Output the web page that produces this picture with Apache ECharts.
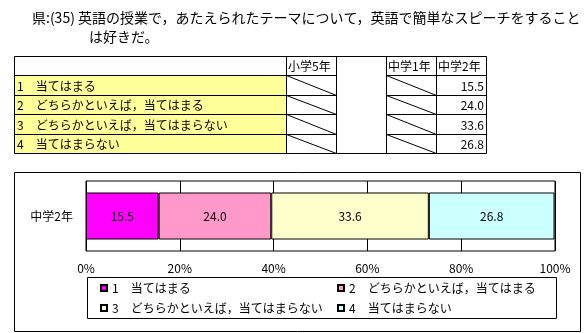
<!DOCTYPE html>
<html>
<head>
<meta charset="utf-8">
<script src="https://cdn.jsdelivr.net/npm/echarts@6/dist/echarts.min.js"></script>
<style>
html,body{margin:0;padding:0;background:#fff;}
#c{width:587px;height:333px;}
</style>
</head>
<body>
<div id="c"></div>
<script>
const titleLines = ['県:(35) 英語の授業で，あたえられたテーマについて，英語で簡単なスピーチをすること', 'は好きだ。'];
const categories = ['1　当てはまる', '2　どちらかといえば，当てはまる', '3　どちらかといえば，当てはまらない', '4　当てはまらない'];
const tableHeaders = ['小学5年', '中学1年', '中学2年'];
const gradeLabel = '中学2年';
const values = [15.5, 24.0, 33.6, 26.8];
const xTicks = [0, 20, 40, 60, 80, 100];
const colors = ['#FF00FF', '#FF99CC', '#FFFFCC', '#CCFFFF'];

const FONT = '"Noto Sans CJK JP", sans-serif';
const chart = echarts.init(document.getElementById('c'), null, {renderer: 'canvas'});

// table layout
const cx = [14, 286, 336, 386, 436, 486];
const ry = [56, 75, 95, 114, 134, 153];
const px = v => Math.round(v) + 0.5;
const g = [];
const line = (x1, y1, x2, y2) => g.push({type: 'line', shape: {x1: px(x1), y1: px(y1), x2: px(x2), y2: px(y2)}, style: {stroke: '#000', lineWidth: 1}, silent: true});
const text = (x, y, t, align, size) => g.push({type: 'text', x: x, y: y, style: {text: t, fill: '#000', font: (size || 12) + 'px ' + FONT, textAlign: align || 'left', textVerticalAlign: 'middle'}, silent: true});

// title
text(32, 18, titleLines[0], 'left', 14);
text(89, 37, titleLines[1], 'left', 14);

// yellow fill
g.push({type: 'rect', shape: {x: cx[0], y: ry[1], width: cx[1] - cx[0], height: ry[5] - ry[1]}, style: {fill: '#FFFF99'}, silent: true});
// horizontal lines
line(cx[0], ry[0], cx[5], ry[0]);
line(cx[0], ry[5], cx[5], ry[5]);
for (let i = 1; i < 5; i++) { line(cx[0], ry[i], cx[2], ry[i]); line(cx[3], ry[i], cx[5], ry[i]); }
// vertical lines
cx.forEach(x => line(x, ry[0], x, ry[5]));
// diagonals
for (let i = 1; i < 5; i++) { line(cx[1], ry[i], cx[2], ry[i + 1]); line(cx[3], ry[i], cx[4], ry[i + 1]); }
// headers
text(cx[1] + 2, (ry[0] + ry[1]) / 2 + 1, tableHeaders[0]);
text(cx[3] + 2, (ry[0] + ry[1]) / 2 + 1, tableHeaders[1]);
text(cx[4] + 2, (ry[0] + ry[1]) / 2 + 1, tableHeaders[2]);
categories.forEach((c, i) => {
  text(cx[0] + 3, (ry[i + 1] + ry[i + 2]) / 2 + 1, c);
  text(cx[5] - 2, (ry[i + 1] + ry[i + 2]) / 2 + 1, values[i].toFixed(1), 'right');
});

// chart outer box and legend box
g.push({type: 'rect', shape: {x: 14.5, y: 172.5, width: 566, height: 159}, style: {fill: 'none', stroke: '#000', lineWidth: 1}, silent: true, z: -1});
g.push({type: 'rect', shape: {x: 87.5, y: 277.5, width: 469, height: 41}, style: {fill: 'none', stroke: '#000', lineWidth: 1}, silent: true});

const legendPos = [[100, 282], [337, 282], [100, 302], [337, 302]];

chart.setOption({
  animation: false,
  textStyle: {fontFamily: FONT},
  grid: {left: 86, top: 181, width: 469, height: 70, show: true, borderColor: '#000', borderWidth: 1, backgroundColor: '#fff', containLabel: false},
  xAxis: {
    type: 'value', min: xTicks[0], max: xTicks[xTicks.length - 1], interval: 20,
    axisLine: {show: false}, axisTick: {show: false},
    splitLine: {show: true, lineStyle: {color: '#000', width: 1}},
    axisLabel: {color: '#000', fontSize: 12, margin: 11, formatter: '{value}%', fontFamily: FONT}
  },
  yAxis: {
    type: 'category', data: [gradeLabel],
    axisLine: {show: false}, axisTick: {show: false},
    axisLabel: {color: '#000', fontSize: 12, margin: 13, fontFamily: FONT}
  },
  legend: categories.map((c, i) => ({
    data: [c], left: legendPos[i][0], top: legendPos[i][1], itemWidth: 6, itemHeight: 6, itemGap: 0, padding: 0,
    selectedMode: false, icon: 'rect',
    textStyle: {color: '#000', fontSize: 12, fontFamily: FONT}
  })),
  series: categories.map((c, i) => ({
    name: c, type: 'bar', stack: 'a', barWidth: 47,
    data: [values[i]],
    itemStyle: {color: colors[i], borderColor: '#000', borderWidth: 1},
    label: {show: true, position: 'inside', color: '#000', fontSize: 12, fontFamily: FONT, formatter: p => p.value.toFixed(1)}
  })),
  graphic: g
});
</script>
</body>
</html>
